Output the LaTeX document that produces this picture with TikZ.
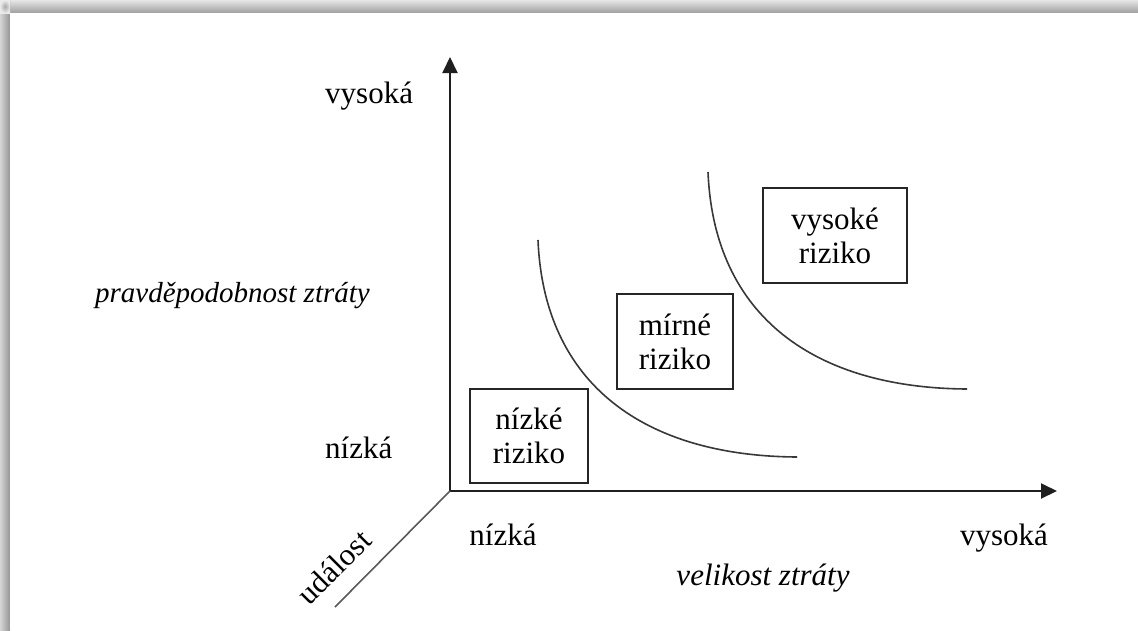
\documentclass[tikz,border=0pt]{standalone}
\usepackage{fontspec}
\setmainfont{Liberation Serif}
\usetikzlibrary{arrows.meta}
\begin{document}
\begin{tikzpicture}[x=1pt,y=-1pt,
  lbl/.style={font=\fontsize{31}{34}\selectfont, inner sep=0pt},
  ilbl/.style={lbl, font=\fontsize{31}{34}\selectfont\itshape},
  axis/.style={line width=2pt, draw=black!88, -{Triangle[length=16pt,width=15pt]}},
  zone/.style={draw=black!85, line width=2pt, inner sep=0pt, align=center,
    font=\fontsize{31}{34}\selectfont},
  level/.style={line width=1.6pt, draw=black!78},
  depth/.style={line width=1.6pt, draw=black!65}]
  \useasboundingbox (0,0) rectangle (1138,630);
  % page with a soft shadow along the top and left edges
  \fill[white] (0,0) rectangle (1138,630);
  \shade[top color=black!10, bottom color=black!38] (0,0) rectangle (1138,13);
  \shade[left color=black!16, right color=black!42] (0,0) rectangle (10,630);
  \shade[inner color=black!34, outer color=black!8] (0,0) rectangle (10,13);
  \fill[white] (10,13) rectangle (1138,630);

  % axes
  \coordinate (O) at (450,491);
  \coordinate (ytop) at (450,57);
  \coordinate (xend) at (1057,491);
  \coordinate (zend) at (335,607);
  \draw[axis] (O) -- (ytop);
  \draw[axis] (O) -- (xend);
  \draw[depth] (O) -- (zend);

  % axis labels
  \node[lbl, anchor=base west] (yhigh) at (325,103) {vysoká};
  \node[lbl, anchor=base west] (ylow) at (325,458) {nízká};
  \node[ilbl, font=\fontsize{29}{32}\selectfont\itshape, anchor=base east] (ytitle) at (370,302) {pravděpodobnost ztráty};
  \node[lbl, anchor=base] (xlow) at (503,545) {nízká};
  \node[lbl, anchor=base] (xhigh) at (1004,545) {vysoká};
  \node[ilbl, anchor=base] (xtitle) at (763,585) {velikost ztráty};
  \node[lbl, rotate=45] (event) at (334,567) {událost};

  % iso-risk curves
  \coordinate (c1a) at (538,240);
  \coordinate (c1b) at (797,457);
  \coordinate (c2a) at (708,172);
  \coordinate (c2b) at (967,389);
  \draw[level] (c1a) .. controls (544,385) and (645,456) .. (c1b);
  \draw[level] (c2a) .. controls (714,317) and (815,388) .. (c2b);

  % risk zones
  \node[zone, minimum width=118pt, minimum height=94pt] (low) at (529,436) {nízké\\riziko};
  \node[zone, minimum width=116pt, minimum height=95pt] (mid) at (675,341.5) {mírné\\riziko};
  \node[zone, minimum width=144pt, minimum height=95pt] (high) at (835,235.5) {vysoké\\riziko};
\end{tikzpicture}
\end{document}
